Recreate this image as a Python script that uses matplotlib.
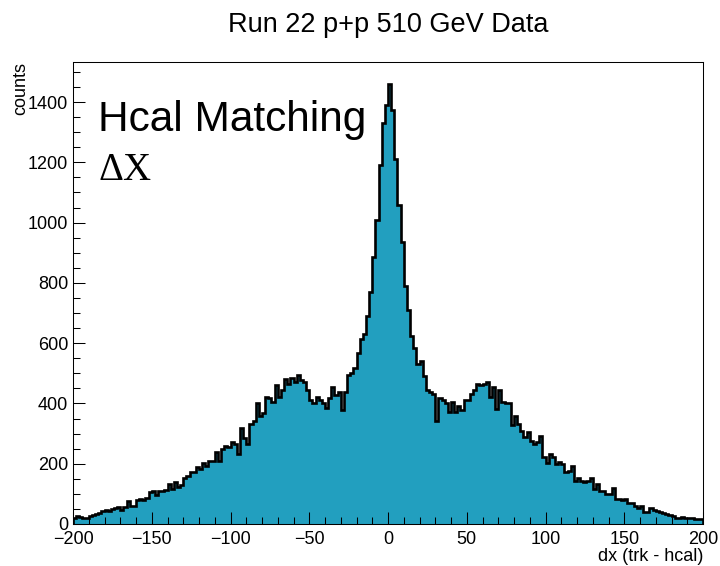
import numpy as np
import matplotlib
matplotlib.use("Agg")
import matplotlib.pyplot as plt
from matplotlib.ticker import MultipleLocator

plt.rcParams['font.family'] = ['Liberation Sans', 'DejaVu Sans']

# dx (trk - hcal), 2 unit bins from -200 to 200
bin_edges = np.arange(-200, 201, 2)

counts_far_left = [21, 25, 22, 19, 21, 26, 30, 33, 36, 42, 46, 43, 51, 52, 57, 48, 57, 76,
                   61, 60, 78, 82, 79, 86, 107, 110, 97, 108, 110, 112, 133, 117, 138, 122, 130]
counts_left = [154, 160, 171, 171, 188, 183, 204, 193, 210, 210, 238, 210, 250, 260, 254, 271,
               267, 233, 317, 287, 267, 333, 343, 400, 360, 367, 421, 417, 404, 460, 421, 443]
counts_left_shoulder = [480, 465, 483, 470, 493, 477, 470, 443, 410, 400, 420, 410, 400, 385,
                        417, 453, 427, 437, 377, 437, 493, 500, 517, 567]
counts_peak = [615, 630, 690, 770, 885, 1010, 1190, 1330, 1390, 1460, 1375, 1210, 1060, 935,
               790, 710, 625, 585, 530, 540, 490, 445]
counts_right_shoulder = [438, 430, 343, 417, 410, 400, 371, 404, 371, 393, 377, 410, 413, 432,
                         443, 466, 460, 466, 471, 421, 454, 383, 443, 404, 400, 400, 327, 360,
                         332, 310, 288, 304, 277, 266, 271, 293, 221, 204, 232, 221, 199, 205]
counts_far_right = [200, 171, 177, 193, 143, 154, 143, 138, 143, 152, 116, 132, 110, 110, 99,
                    101, 121, 82, 82, 79, 82, 71, 70, 60, 54, 60, 41, 41, 52, 46, 43, 41, 38,
                    32, 30, 27, 21, 19, 23, 21, 19, 19, 16, 17, 15]

counts = np.array(counts_far_left + counts_left + counts_left_shoulder + counts_peak
                  + counts_right_shoulder + counts_far_right)

W, H = 720, 566
fig = plt.figure(figsize=(W / 100, H / 100), dpi=100)
ax = fig.add_axes([73 / W, 1 - 524 / H, 630 / W, 462 / H])

ax.stairs(counts, bin_edges, fill=True, color='#229fbf', lw=0)
ax.stairs(counts, bin_edges, color='black', lw=1.9)

ax.set_xlim(-200, 200)
ax.set_ylim(0, 1.05 * counts.max())

ax.xaxis.set_major_locator(MultipleLocator(50))
ax.xaxis.set_minor_locator(MultipleLocator(10))
ax.yaxis.set_major_locator(MultipleLocator(200))
ax.yaxis.set_minor_locator(MultipleLocator(50))
ax.tick_params(which='both', direction='in', top=False, right=False, width=0.75,
               labelsize=13, color='black')
ax.tick_params(which='major', length=8.6)
ax.tick_params(which='minor', length=5)
ax.tick_params(axis='x', pad=5)
ax.tick_params(axis='y', pad=3.5)
for s in ax.spines.values():
    s.set_linewidth(0.75)

# axis titles placed at the ends of the axes
fig.text(703 / W, 1 - 561 / H, 'dx (trk - hcal)', ha='right', va='baseline', fontsize=13)
fig.text(12 / W, 1 - 62 / H, 'counts', rotation=90, ha='left', va='top', fontsize=13)

fig.text(388 / W, 1 - 32 / H, 'Run 22 p+p 510 GeV Data', ha='center', va='baseline', fontsize=19.5)

ax.text((98 - 73) / 630, (524 - 131) / 462, 'Hcal Matching', transform=ax.transAxes,
        ha='left', va='baseline', fontsize=30.5)
ax.text((98 - 73) / 630, (524 - 180) / 462, '\u0394X', transform=ax.transAxes,
        ha='left', va='baseline', fontsize=28, family=['Liberation Serif', 'DejaVu Serif'])

fig.savefig('out.png', dpi=100, facecolor='white')
